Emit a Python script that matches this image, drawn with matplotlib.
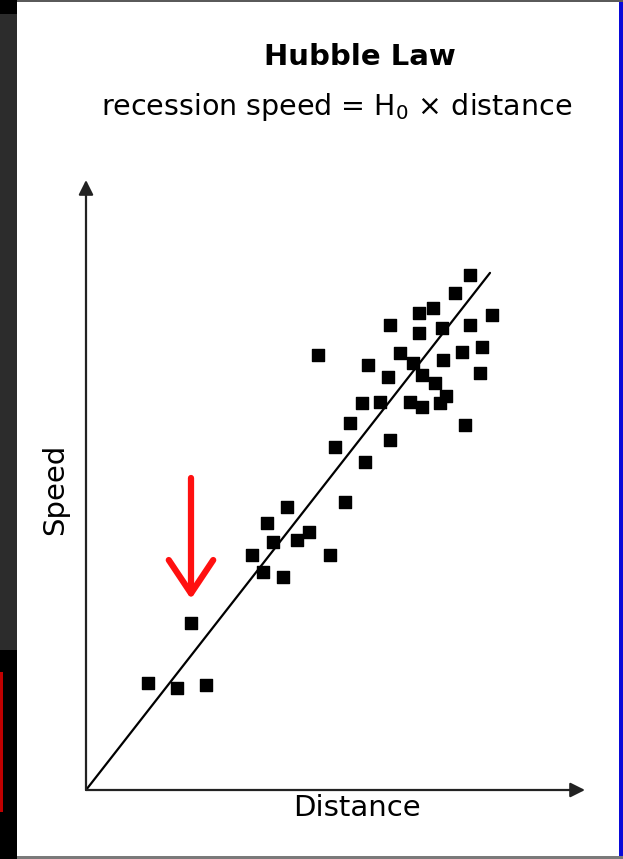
#!/usr/bin/env python3

# imports
import matplotlib
matplotlib.use('Agg')
import matplotlib.pyplot as plt
from matplotlib.patches import Rectangle

# galaxy positions (arbitrary units)
distance = [12.4, 18.2, 24.0, 21.0,
            33.2, 35.4, 36.2, 37.4, 39.4, 40.2, 42.2, 44.6, 48.8, 51.8,
            46.4, 49.8, 52.8, 55.2, 55.8, 56.4, 58.8, 60.4, 60.8, 60.8,
            62.8, 64.8, 65.4, 66.6, 66.6, 67.2, 67.2, 69.4, 69.8, 70.8,
            72.0, 71.2, 71.4, 73.8, 75.2, 75.8, 76.8, 76.8, 78.8, 79.2, 81.2]
speed = [21.4, 20.4, 21.0, 33.4,
         47.0, 43.6, 53.4, 49.6, 42.6, 56.6, 50.0, 51.6, 47.0, 57.6,
         87.0, 68.6, 73.4, 77.4, 65.6, 85.0, 77.6, 82.6, 93.0, 70.0,
         87.4, 77.6, 85.4, 95.4, 91.4, 83.0, 76.6, 96.4, 81.4, 77.4,
         78.8, 92.4, 86.0, 99.4, 87.6, 73.0, 103.0, 93.0, 83.4, 88.6, 95.0]

# hubble constant for the drawn line and where it stops
H0 = 1.28
line_end = 80.8

# highlighted galaxy (red arrow points at it)
marked_galaxy = (21.0, 33.4)

W, H = 623, 859
fig = plt.figure(figsize=(W / 100, H / 100), dpi=100)
fig.patch.set_facecolor('white')

# helper: pixel box (from top-left) -> figure rectangle
def px_rect(x0, y0, x1, y1, color):
    fig.patches.append(Rectangle((x0 / W, 1 - y1 / H), (x1 - x0) / W, (y1 - y0) / H,
                                 transform=fig.transFigure, facecolor=color,
                                 edgecolor='none', zorder=-5))

# frame decorations around the slide
px_rect(0, 0, 17, 14, 'black')
px_rect(0, 14, 17, 650, '#2c2c2c')
px_rect(0, 650, 17, 859, 'black')
px_rect(0, 672, 3, 812, '#c00000')
px_rect(17, 0, 623, 2, '#5a5a5a')
px_rect(17, 856, 623, 859, '#7a7a7a')
px_rect(619, 2, 623, 856, '#0a0ad8')

# axes placed so origin sits at pixel (86, 790)
ax = fig.add_axes([86 / W, (H - 790) / H, (592 - 86) / W, (790 - 176) / H])
ax.set_xlim(0, (592 - 86) / 5)
ax.set_ylim(0, (790 - 176) / 5)
ax.axis('off')

# arrowed axes
ax.annotate('', xy=(99.8, 0), xytext=(0, 0),
            arrowprops=dict(arrowstyle='-|>', color='#222222', lw=1.6,
                            mutation_scale=22, shrinkA=0, shrinkB=0),
            annotation_clip=False)
ax.annotate('', xy=(0, 122), xytext=(0, 0),
            arrowprops=dict(arrowstyle='-|>', color='#222222', lw=1.6,
                            mutation_scale=22, shrinkA=0, shrinkB=0),
            annotation_clip=False)

# hubble line
ax.plot([0, line_end], [0, H0 * line_end], color='black', lw=1.6, solid_capstyle='round')

# galaxies
ax.scatter(distance, speed, marker='s', s=85, color='black', zorder=3)

# red arrow to one galaxy
ax.annotate('', xy=(marked_galaxy[0], marked_galaxy[1] + 4.8),
            xytext=(marked_galaxy[0], marked_galaxy[1] + 29),
            arrowprops=dict(arrowstyle='->, head_length=1.2, head_width=0.8',
                            color='#ff1010', lw=4.5, mutation_scale=20,
                            shrinkA=0, shrinkB=0, joinstyle='round', capstyle='round'))

# Labelling
fig.text(360 / W, 1 - 57 / H, 'Hubble Law', ha='center', va='center',
         fontsize=21, fontweight='bold')
fig.text(337 / W, 1 - 107 / H, 'recession speed = H$_0$ × distance', ha='center',
         va='center', fontsize=20.5)
fig.text(357 / W, 1 - 808 / H, 'Distance', ha='center', va='center', fontsize=21)
fig.text(55 / W, 1 - 489 / H, 'Speed', ha='center', va='center', fontsize=21,
         rotation=90)

fig.savefig('out.png', dpi=100)
print('Saved plot as out.png')
